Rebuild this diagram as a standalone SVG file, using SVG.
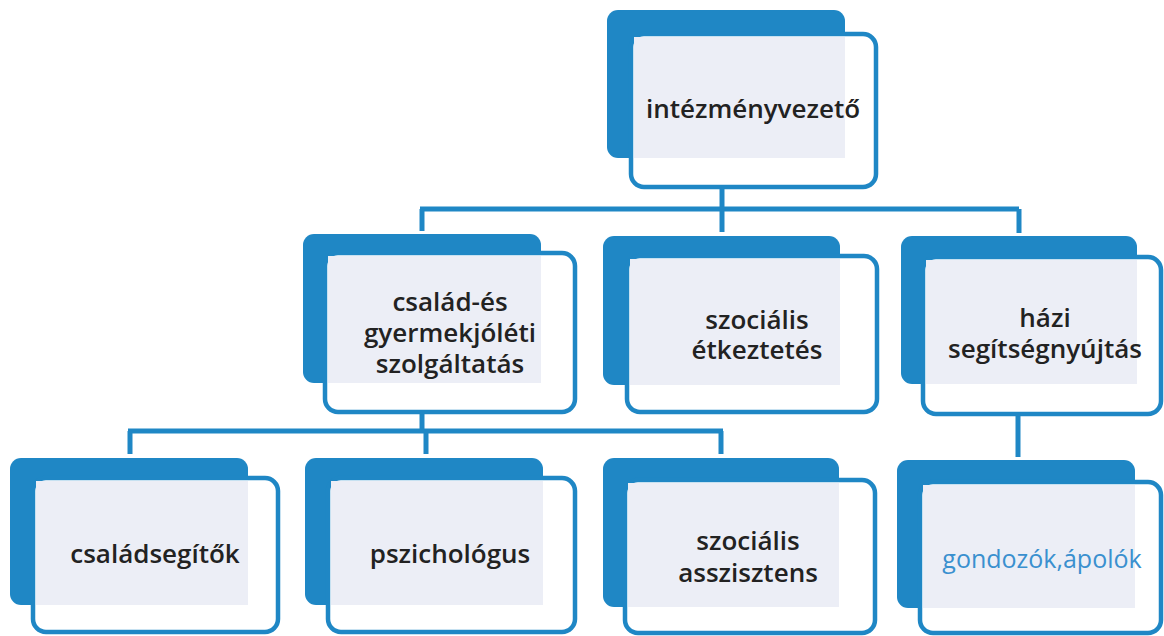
<svg xmlns="http://www.w3.org/2000/svg" width="1164" height="636" viewBox="0 0 1164 636">
<style>
.bk{fill:#1f87c5}
.fr{fill:#ffffff;stroke:#1f87c5;stroke-width:4.5}
.ov{fill:#eceef6}
.t{font-family:"Open Sans","Liberation Sans",sans-serif;font-weight:600;font-size:26px;fill:#222222;text-anchor:middle}
.tb{font-family:"Open Sans","Liberation Sans",sans-serif;font-weight:400;font-size:25px;fill:#3a90cf;text-anchor:middle}
.c{fill:none;stroke:#1f87c5;stroke-width:5;stroke-linecap:butt;stroke-linejoin:miter}
</style>
<rect width="1164" height="636" fill="#ffffff"/>
<g id="connectors">
<path class="c" d="M722,187 V232"/>
<path class="c" d="M420,209 H1019"/>
<path class="c" d="M422,209 V231"/>
<path class="c" d="M1019,209 V233"/>
<path class="c" d="M422,412 V431"/>
<path class="c" d="M128,431 H723"/>
<path class="c" d="M130,431 V454"/>
<path class="c" d="M426,431 V454"/>
<path class="c" d="M721,431 V454"/>
<path class="c" d="M1018,415 V457"/>
</g>
<g id="n-intezmenyvezeto">
<rect class="bk" x="607" y="10" width="238" height="148" rx="11"/>
<rect class="fr" x="631" y="34" width="245" height="153" rx="13"/>
<rect class="ov" x="634" y="37" width="211" height="121"/>
<text class="t" x="753" y="118">intézményvezető</text>
</g>
<g id="n-csalad">
<rect class="bk" x="303" y="234" width="238" height="149" rx="11"/>
<rect class="fr" x="325" y="253" width="250" height="159" rx="13"/>
<rect class="ov" x="328" y="256" width="213" height="127"/>
<text class="t" x="450" y="311">család-és</text>
<text class="t" x="450" y="342">gyermekjóléti</text>
<text class="t" x="450" y="373">szolgáltatás</text>
</g>
<g id="n-etkeztetes">
<rect class="bk" x="603" y="236" width="237" height="149" rx="11"/>
<rect class="fr" x="627" y="256" width="250" height="156" rx="13"/>
<rect class="ov" x="630" y="259" width="210" height="126"/>
<text class="t" x="757" y="329">szociális</text>
<text class="t" x="757" y="359">étkeztetés</text>
</g>
<g id="n-hazi">
<rect class="bk" x="901" y="236" width="236" height="148" rx="11"/>
<rect class="fr" x="923" y="257" width="238" height="157" rx="13"/>
<rect class="ov" x="926" y="260" width="211" height="124"/>
<text class="t" x="1045" y="327">házi</text>
<text class="t" x="1045" y="358">segítségnyújtás</text>
</g>
<g id="n-csaladsegitok">
<rect class="bk" x="10" y="458" width="238" height="147" rx="11"/>
<rect class="fr" x="33" y="478" width="245" height="154" rx="13"/>
<rect class="ov" x="36" y="481" width="212" height="124"/>
<text class="t" x="155" y="563">családsegítők</text>
</g>
<g id="n-pszichologus">
<rect class="bk" x="305" y="458" width="238" height="147" rx="11"/>
<rect class="fr" x="328" y="478" width="247" height="154" rx="13"/>
<rect class="ov" x="331" y="481" width="212" height="124"/>
<text class="t" x="450" y="563">pszichológus</text>
</g>
<g id="n-asszisztens">
<rect class="bk" x="603" y="458" width="236" height="149" rx="11"/>
<rect class="fr" x="625" y="480" width="250" height="153" rx="13"/>
<rect class="ov" x="628" y="483" width="211" height="124"/>
<text class="t" x="748" y="550">szociális</text>
<text class="t" x="748" y="582">asszisztens</text>
</g>
<g id="n-gondozok">
<rect class="bk" x="897" y="460" width="238" height="148" rx="11"/>
<rect class="fr" x="920" y="482" width="241" height="151" rx="13"/>
<rect class="ov" x="923" y="485" width="212" height="123"/>
<text class="tb" x="1042" y="568">gondozók,ápolók</text>
</g>
</svg>
